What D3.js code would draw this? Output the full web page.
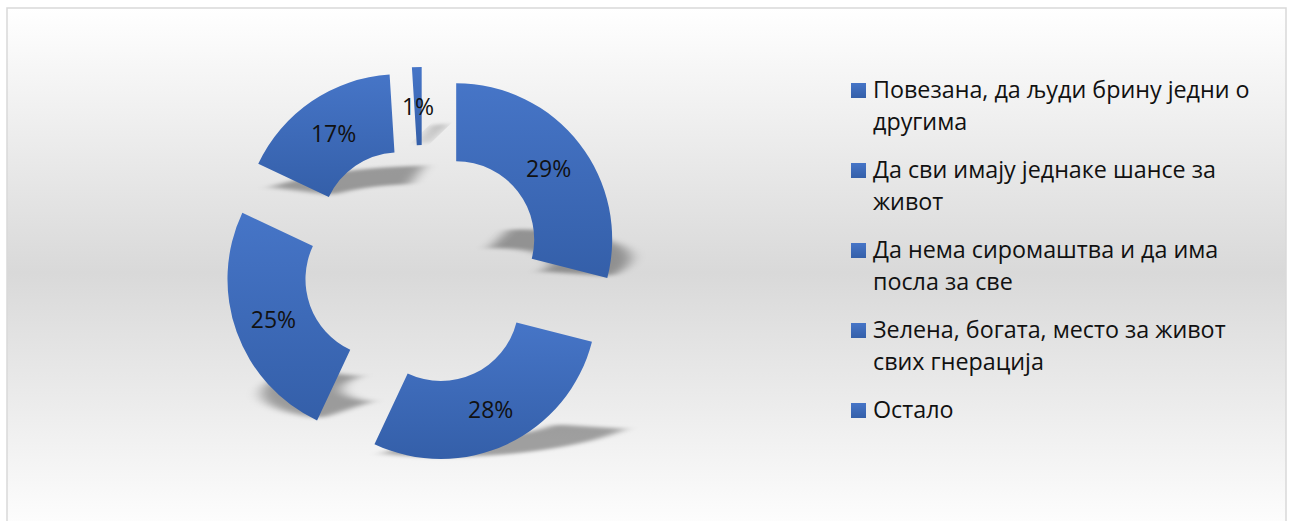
<!DOCTYPE html>
<html>
<head>
<meta charset="utf-8">
<script src="https://cdn.jsdelivr.net/npm/d3@7"></script>
<style>
  html, body { margin: 0; padding: 0; background: #ffffff; }
  svg { display: block; }
  text { font-family: "Open Sans", "Noto Sans", Lato, sans-serif; }
</style>
</head>
<body>
<svg id="chart" width="1290" height="521"></svg>
<script>
// ---- data ----
const categories = [
  "Повезана, да људи брину једни о\nдругима",
  "Да сви имају једнаке шансе за\nживот",
  "Да нема сиромаштва и да има\nпосла за све",
  "Зелена, богата, место за живот\nсвих гнерација",
  "Остало"
];
const values = [29, 28, 25, 17, 1];
const valueLabels = ["29%", "28%", "25%", "17%", "1%"];

// ---- layout ----
const cx = 423, cy = 265;
const rInner = 78, rOuter = 156;
const explode = 42;

const svg = d3.select("#chart");
const defs = svg.append("defs");

const bg = defs.append("linearGradient").attr("id", "bgGrad")
  .attr("x1", 0).attr("y1", 0).attr("x2", 0).attr("y2", 1);
bg.append("stop").attr("offset", "0%").attr("stop-color", "#ffffff");
bg.append("stop").attr("offset", "50%").attr("stop-color", "#d9d9d9");
bg.append("stop").attr("offset", "100%").attr("stop-color", "#ffffff");

const sg = defs.append("linearGradient").attr("id", "sliceGrad")
  .attr("x1", 0).attr("y1", 0).attr("x2", 0).attr("y2", 1);
sg.append("stop").attr("offset", "0%").attr("stop-color", "#4675c7");
sg.append("stop").attr("offset", "100%").attr("stop-color", "#345fa9");

const blur = defs.append("filter").attr("id", "shadowBlur")
  .attr("x", "-50%").attr("y", "-50%").attr("width", "200%").attr("height", "200%");
blur.append("feGaussianBlur").attr("stdDeviation", 7);

svg.append("rect")
  .attr("x", 7).attr("y", 8).attr("width", 1279).attr("height", 530)
  .attr("fill", "url(#bgGrad)")
  .attr("stroke", "#d9d9d9").attr("stroke-width", 1.5);

const pie = d3.pie().sort(null).value(d => d)(values);
const arc = d3.arc().innerRadius(rInner).outerRadius(rOuter);
const mid = d => (d.startAngle + d.endAngle) / 2;
const offset = d => [cx + explode * Math.sin(mid(d)), cy - explode * Math.cos(mid(d))];

// shadows (flattened, skewed perspective shadow behind each slice)
const shadowLayer = svg.append("g");
pie.forEach(d => {
  const [ox, oy] = offset(d);
  const g = shadowLayer.append("g").attr("transform", `translate(${ox},${oy})`);
  const p = g.append("path").attr("d", arc(d))
    .attr("fill", "#000").attr("fill-opacity", 0.34)
    .attr("filter", "url(#shadowBlur)");
  const bb = p.node().getBBox();
  const by = bb.y + bb.height;
  p.attr("transform", `translate(4,${by - 2}) skewX(-46) scale(1,0.24) translate(0,${-by})`);
});

// slices
const sliceLayer = svg.append("g");
pie.forEach(d => {
  const [ox, oy] = offset(d);
  sliceLayer.append("g").attr("transform", `translate(${ox},${oy})`)
    .append("path").attr("d", arc(d)).attr("fill", "url(#sliceGrad)");
});

// labels
pie.forEach((d, i) => {
  const [ox, oy] = offset(d);
  const c = arc.centroid(d);
  svg.append("text")
    .attr("x", ox + c[0]).attr("y", oy + c[1])
    .attr("text-anchor", "middle").attr("dominant-baseline", "central")
    .attr("font-size", 23).attr("fill", "#111")
    .text(valueLabels[i]);
});

// legend
const legend = svg.append("g");
const legX = 851, legY0 = 98, itemStep = 80, lineStep = 32;
categories.forEach((cat, i) => {
  const y = legY0 + i * itemStep;
  legend.append("rect").attr("x", legX).attr("y", y - 15)
    .attr("width", 15).attr("height", 15).attr("fill", "url(#sliceGrad)");
  const t = legend.append("text").attr("x", legX + 22).attr("y", y)
    .attr("font-size", 23.3).attr("fill", "#111");
  cat.split("\n").forEach((ln, j) => {
    t.append("tspan").attr("x", legX + 22).attr("y", y + j * lineStep).text(ln);
  });
});
</script>
</body>
</html>
